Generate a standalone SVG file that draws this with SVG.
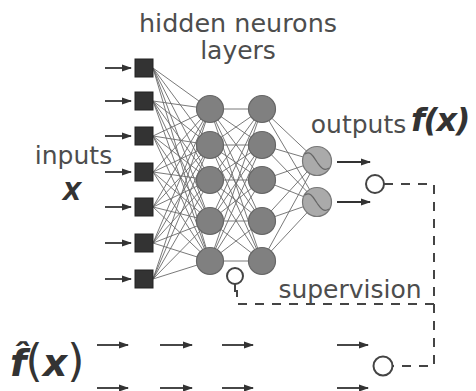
<svg xmlns="http://www.w3.org/2000/svg" width="476" height="391" viewBox="0 0 476 391">
<defs>
<marker id="ah" viewBox="0 0 10 10" refX="9" refY="5" markerWidth="10" markerHeight="8" markerUnits="userSpaceOnUse" orient="auto" preserveAspectRatio="none">
<path d="M0,0.5 L10,5 L0,9.5 Z" fill="#333"/>
</marker>
<style>
.lbl{font-family:"DejaVu Sans",sans-serif;font-size:25px;fill:#4d4d4d}
.math{font-family:"DejaVu Sans",sans-serif;font-weight:bold;font-style:italic;fill:#333}
.sq{fill:#333;stroke:#222;stroke-width:1}
.hid{fill:#808080;stroke:#666;stroke-width:1.2}
.out{fill:#aaa;stroke:#777;stroke-width:1.2}
.cmp{fill:#fff;stroke:#444;stroke-width:2}
.w{stroke:#6a6a6a;stroke-width:0.9;fill:none}
.arr{stroke:#333;stroke-width:1.8;fill:none;marker-end:url(#ah)}
.dash{stroke:#444;stroke-width:2;fill:none;stroke-dasharray:9 8}
.sig{stroke:#666;stroke-width:1.2;fill:none}
</style>
</defs>
<rect width="476" height="391" fill="#fff"/>

<g id="connectors">
<g id="w-in-h1" class="w">
<path d="M153,68 L210,109 M153,68 L210,145 M153,68 L210,180 M153,68 L210,221 M153,68 L210,261"/>
<path d="M153,101 L210,109 M153,101 L210,145 M153,101 L210,180 M153,101 L210,221 M153,101 L210,261"/>
<path d="M153,136 L210,109 M153,136 L210,145 M153,136 L210,180 M153,136 L210,221 M153,136 L210,261"/>
<path d="M153,172 L210,109 M153,172 L210,145 M153,172 L210,180 M153,172 L210,221 M153,172 L210,261"/>
<path d="M153,207 L210,109 M153,207 L210,145 M153,207 L210,180 M153,207 L210,221 M153,207 L210,261"/>
<path d="M153,243 L210,109 M153,243 L210,145 M153,243 L210,180 M153,243 L210,221 M153,243 L210,261"/>
<path d="M153,279 L210,109 M153,279 L210,145 M153,279 L210,180 M153,279 L210,221 M153,279 L210,261"/>
</g>
<g id="w-h1-h2" class="w">
<path d="M210,109 L262,109 M210,109 L262,145 M210,109 L262,180 M210,109 L262,221 M210,109 L262,261"/>
<path d="M210,145 L262,109 M210,145 L262,145 M210,145 L262,180 M210,145 L262,221 M210,145 L262,261"/>
<path d="M210,180 L262,109 M210,180 L262,145 M210,180 L262,180 M210,180 L262,221 M210,180 L262,261"/>
<path d="M210,221 L262,109 M210,221 L262,145 M210,221 L262,180 M210,221 L262,221 M210,221 L262,261"/>
<path d="M210,261 L262,109 M210,261 L262,145 M210,261 L262,180 M210,261 L262,221 M210,261 L262,261"/>
</g>
<g id="w-h2-out" class="w">
<path d="M262,109 L317,161 M262,145 L317,161 M262,180 L317,161 M262,221 L317,161 M262,261 L317,161"/>
<path d="M262,109 L317,202 M262,145 L317,202 M262,180 L317,202 M262,221 L317,202 M262,261 L317,202"/>
</g>
<g id="input-arrows">
<line class="arr" x1="105" y1="68" x2="131" y2="68"/>
<line class="arr" x1="105" y1="101" x2="131" y2="101"/>
<line class="arr" x1="105" y1="136" x2="131" y2="136"/>
<line class="arr" x1="105" y1="172" x2="131" y2="172"/>
<line class="arr" x1="105" y1="207" x2="131" y2="207"/>
<line class="arr" x1="105" y1="243" x2="131" y2="243"/>
<line class="arr" x1="105" y1="279" x2="131" y2="279"/>
</g>
<g id="output-arrows">
<line class="arr" x1="337" y1="162" x2="370" y2="162"/>
<line class="arr" x1="337" y1="202" x2="370" y2="202"/>
</g>
<g id="target-arrows">
<line class="arr" x1="97" y1="345" x2="128" y2="345"/>
<line class="arr" x1="160" y1="345" x2="192" y2="345"/>
<line class="arr" x1="222" y1="345" x2="253" y2="345"/>
<line class="arr" x1="337" y1="345" x2="368" y2="345"/>
<line class="arr" x1="97" y1="388" x2="128" y2="388"/>
<line class="arr" x1="160" y1="388" x2="192" y2="388"/>
<line class="arr" x1="222" y1="388" x2="253" y2="388"/>
<line class="arr" x1="337" y1="388" x2="368" y2="388"/>
</g>
<g id="supervision-lines">
<path class="dash" d="M384,184 L434,184 L434,366 L392,366"/>
<path class="dash" d="M434,304 L237,304 L237,290"/>
<line x1="235" y1="284" x2="235" y2="292" stroke="#444" stroke-width="2"/>
</g>
</g>

<g id="inputs">
<rect id="in1" class="sq" x="135" y="59" width="18" height="18"/>
<rect id="in2" class="sq" x="135" y="92" width="18" height="18"/>
<rect id="in3" class="sq" x="135" y="127" width="18" height="18"/>
<rect id="in4" class="sq" x="135" y="163" width="18" height="18"/>
<rect id="in5" class="sq" x="135" y="198" width="18" height="18"/>
<rect id="in6" class="sq" x="135" y="234" width="18" height="18"/>
<rect id="in7" class="sq" x="135" y="270" width="18" height="18"/>
</g>
<g id="hidden1">
<circle id="h1a" class="hid" cx="210" cy="109" r="13.5"/>
<circle id="h1b" class="hid" cx="210" cy="145" r="13.5"/>
<circle id="h1c" class="hid" cx="210" cy="180" r="13.5"/>
<circle id="h1d" class="hid" cx="210" cy="221" r="13.5"/>
<circle id="h1e" class="hid" cx="210" cy="261" r="13.5"/>
</g>
<g id="hidden2">
<circle id="h2a" class="hid" cx="262" cy="109" r="13.5"/>
<circle id="h2b" class="hid" cx="262" cy="145" r="13.5"/>
<circle id="h2c" class="hid" cx="262" cy="180" r="13.5"/>
<circle id="h2d" class="hid" cx="262" cy="221" r="13.5"/>
<circle id="h2e" class="hid" cx="262" cy="261" r="13.5"/>
</g>
<g id="out1">
<circle class="out" cx="317" cy="161" r="14.5"/>
<path class="sig" d="M305,154 C311,150 314,158 317,162 C320,166 323,172 329,168"/>
</g>
<g id="out2">
<circle class="out" cx="317" cy="202" r="14.5"/>
<path class="sig" d="M305,195 C311,191 314,199 317,203 C320,207 323,213 329,209"/>
</g>
<g id="cmp-hidden"><circle class="cmp" cx="235" cy="276" r="8"/></g>
<g id="cmp-out"><circle class="cmp" cx="375" cy="184" r="9"/></g>
<g id="cmp-target"><circle class="cmp" cx="383" cy="366" r="9.5"/></g>

<g id="labels">
<text class="lbl" x="238" y="32" text-anchor="middle" font-size="24.5" textLength="198" lengthAdjust="spacingAndGlyphs">hidden neurons</text>
<text class="lbl" x="238" y="59" text-anchor="middle" font-size="24.5">layers</text>
<text class="lbl" x="73.5" y="164" text-anchor="middle">inputs</text>
<text class="math" x="72" y="200" text-anchor="middle" font-size="24">X</text>
<text class="lbl" x="358.5" y="133" text-anchor="middle">outputs</text>
<text class="math" x="411" y="131" font-size="32" letter-spacing="-1.5">f(x)</text>
<text class="lbl" x="350" y="298" text-anchor="middle">supervision</text>
<text x="10" y="376" font-family="DejaVu Sans, sans-serif" fill="#333" font-size="38"><tspan font-weight="bold" font-style="italic">f̂</tspan><tspan font-size="44" dx="-1">(</tspan><tspan font-weight="bold" font-style="italic">x</tspan><tspan font-size="44">)</tspan></text>
</g>
</svg>
